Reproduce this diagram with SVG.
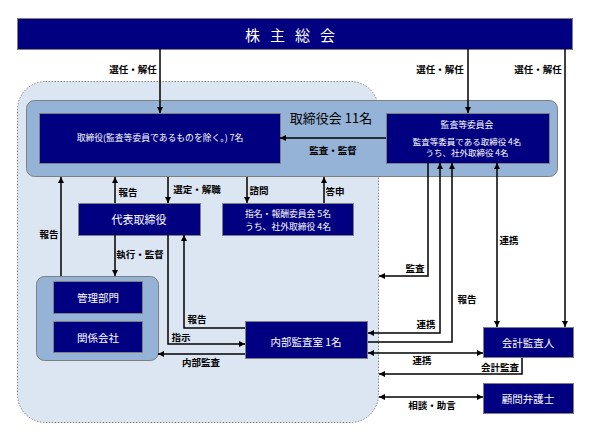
<svg xmlns="http://www.w3.org/2000/svg" width="590" height="440" viewBox="0 0 590 440">
<defs>
<marker id="ah" viewBox="0 0 8 8" refX="8" refY="4" markerWidth="6" markerHeight="6" markerUnits="userSpaceOnUse" orient="auto-start-reverse">
<path d="M0,0 L8,4 L0,8 z" fill="#000"/>
</marker>
<style>
.nv{fill:#000080;stroke:#7f7f7f;stroke-width:1}
.wt{fill:#fff;font-family:"Noto Sans CJK JP","Noto Sans",sans-serif;text-anchor:middle;dominant-baseline:central}
.lb{fill:#000;font-family:"Noto Sans CJK JP","Noto Sans",sans-serif;font-weight:bold;font-size:9.5px;text-anchor:middle;dominant-baseline:central}
.cn path{fill:none;stroke:#000;stroke-width:1.5}
.e{marker-end:url(#ah)}
.b{marker-start:url(#ah);marker-end:url(#ah)}
</style>
</defs>
<rect width="590" height="440" fill="#fff"/>
<rect x="17.5" y="81.5" width="361" height="341" rx="28" fill="#dce6f2" stroke="#808080" stroke-dasharray="1.5 1.5"/>

<g id="shareholders">
<rect x="17.5" y="18.5" width="555" height="31" fill="#000080" stroke="#7f7f7f"/>
<text class="wt" x="295" y="34" font-size="15" letter-spacing="10">株主総会</text>
</g>

<g id="board">
<rect x="26.5" y="100.5" width="531" height="76" rx="8" fill="#95b3d7" stroke="#7f7f7f"/>
<text x="331" y="117" font-family="'Noto Sans CJK JP','Noto Sans',sans-serif" font-size="13" text-anchor="middle" dominant-baseline="central" fill="#000">取締役会 11名</text>
</g>

<g id="directors">
<rect class="nv" x="39.5" y="113.5" width="241" height="50"/>
<text class="wt" x="160" y="137" font-size="8.8">取締役(監査等委員であるものを除く。) 7名</text>
</g>

<g id="audit-committee">
<rect class="nv" x="386.5" y="113.5" width="163" height="50"/>
<text class="wt" x="467" y="124" font-size="8.8">監査等委員会</text>
<text class="wt" x="467" y="141" font-size="8.5">監査等委員である取締役 4名</text>
<text class="wt" x="467" y="152" font-size="8.5">うち、社外取締役 4名</text>
</g>

<g id="representative">
<rect class="nv" x="78.5" y="203.5" width="122" height="32"/>
<text class="wt" x="139" y="219" font-size="11">代表取締役</text>
</g>

<g id="nomination">
<rect class="nv" x="222.5" y="203.5" width="131" height="32"/>
<text class="wt" x="288" y="213.5" font-size="8.8">指名・報酬委員会 5名</text>
<text class="wt" x="288" y="226" font-size="8.8">うち、社外取締役 4名</text>
</g>

<g id="departments">
<rect x="36.5" y="276.5" width="122" height="84" rx="8" fill="#95b3d7" stroke="#7f7f7f"/>
<rect class="nv" x="53.5" y="281.5" width="89" height="32"/>
<text class="wt" x="98" y="297" font-size="10.5">管理部門</text>
<rect class="nv" x="53.5" y="321.5" width="89" height="31"/>
<text class="wt" x="98" y="337" font-size="10.5">関係会社</text>
</g>

<g id="internal-audit">
<rect class="nv" x="245.5" y="321.5" width="122" height="37"/>
<text class="wt" x="306" y="341" font-size="10.5">内部監査室 1名</text>
</g>

<g id="accounting-auditor">
<rect class="nv" x="483.5" y="327.5" width="90" height="30"/>
<text class="wt" x="528" y="342" font-size="10.5">会計監査人</text>
</g>

<g id="lawyer">
<rect class="nv" x="483.5" y="383.5" width="90" height="30"/>
<text class="wt" x="528" y="398" font-size="10.5">顧問弁護士</text>
</g>

<g id="connectors" class="cn">
<path class="e" d="M160 49 V113"/>
<path class="e" d="M468 49 V113"/>
<path class="e" d="M565 49 V327"/>
<path class="e" d="M386 138 H280"/>
<path class="e" d="M61 276 V177"/>
<path class="e" d="M115 203 V177"/>
<path class="e" d="M168 177 V203"/>
<path class="e" d="M115 235 V276"/>
<path class="e" d="M247 177 V203"/>
<path class="e" d="M324 203 V177"/>
<path class="e" d="M168 235 V344 H245"/>
<path class="e" d="M245 328 H184 V235"/>
<path class="e" d="M245 354 H158"/>
<path class="e" d="M428 163 V276 H379"/>
<path class="b" d="M368 333 H440 V163"/>
<path class="e" d="M368 342 H452 V163"/>
<path class="b" d="M497 163 V327"/>
<path class="b" d="M368 353 H483"/>
<path class="e" d="M522 358 V374 H379"/>
<path class="b" d="M379 397 H483"/>
</g>

<g id="labels">
<text class="lb" x="133" y="69">選任・解任</text>
<text class="lb" x="440" y="69">選任・解任</text>
<text class="lb" x="538" y="69">選任・解任</text>
<text class="lb" x="333" y="150">監査・監督</text>
<text class="lb" x="49" y="234">報告</text>
<text class="lb" x="128" y="192">報告</text>
<text class="lb" x="197" y="189">選定・解職</text>
<text class="lb" x="140" y="254">執行・監督</text>
<text class="lb" x="259" y="190">諮問</text>
<text class="lb" x="335" y="191">答申</text>
<text class="lb" x="197" y="319">報告</text>
<text class="lb" x="181" y="337">指示</text>
<text class="lb" x="201" y="362">内部監査</text>
<text class="lb" x="415" y="268">監査</text>
<text class="lb" x="426" y="324">連携</text>
<text class="lb" x="467" y="299">報告</text>
<text class="lb" x="509" y="240">連携</text>
<text class="lb" x="422" y="360">連携</text>
<text class="lb" x="500" y="367">会計監査</text>
<text class="lb" x="432" y="405">相談・助言</text>
</g>
</svg>
